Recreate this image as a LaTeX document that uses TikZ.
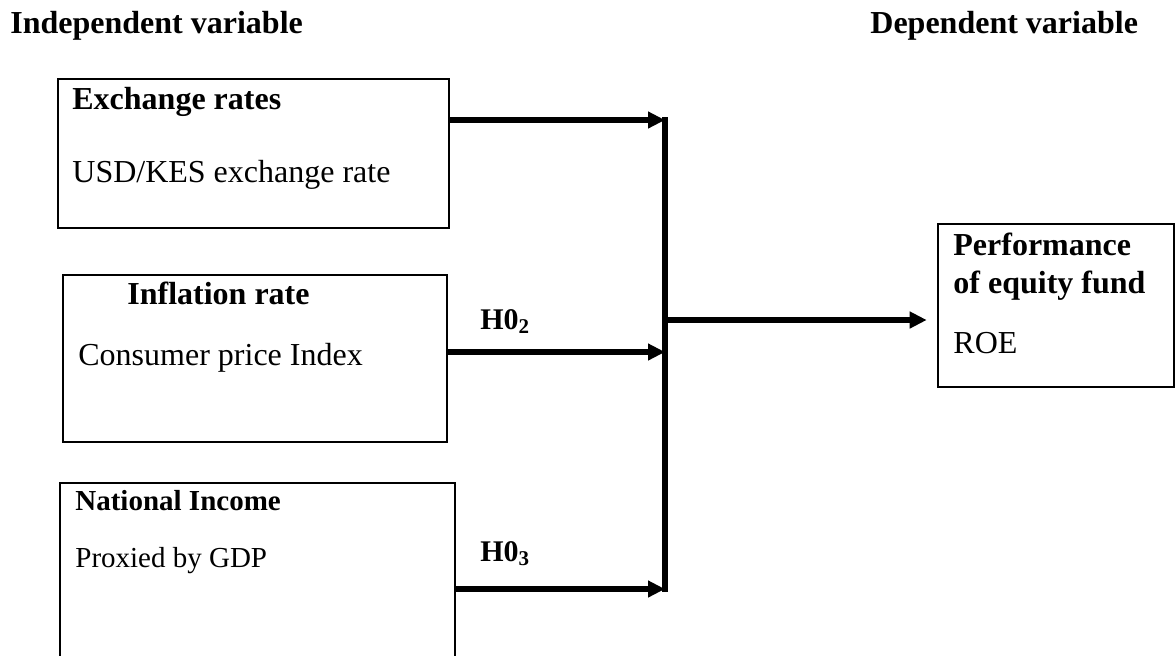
\documentclass[tikz,border=0pt]{standalone}
\usepackage{fontspec}
\setmainfont{Liberation Serif}
\usetikzlibrary{fit}
\usetikzlibrary{positioning}
\usetikzlibrary{arrows.meta}
\colorlet{frame}{black}
\tikzset{
  varbox/.style={draw=frame, line width=1.3pt, inner sep=0pt},
  boxhead/.style={anchor=base west, inner sep=0pt, font=\fontsize{16pt}{19pt}\selectfont\bfseries},
  boxtext/.style={anchor=base west, inner sep=0pt, font=\fontsize{16pt}{19pt}\selectfont},
  link/.style={draw=frame, line width=3pt, -{Triangle[length=8.5pt,width=8pt]}},
}
\newcommand{\tikzvarbox}[5]{%
\node[varbox, fit={(#2,#3) (#4,#5)}] (#1) {};
}

\begin{document}
\begin{tikzpicture}[x=0.5pt, y=-0.5pt]
\clip (0,0) rectangle (1176,655);
% headings
\node[boxhead] (indep) at (10,33) {Independent variable};
\node[boxhead] (dep) at (870,33) {Dependent variable};
% independent variables
\tikzvarbox{exch}{58}{79}{449}{228}
\node[boxhead] (exch-title) at (72,109) {Exchange rates};
\node[boxtext] (exch-text) at (72,182) {USD/KES exchange rate};
\tikzvarbox{infl}{63}{275}{447}{442}
\node[boxhead] (infl-title) at (127,304) {Inflation rate};
\node[boxtext] (infl-text) at (78,365) {Consumer price Index};
\tikzvarbox{income}{60}{483}{455}{700}
\node[boxhead, font=\fontsize{14.5pt}{17pt}\selectfont\bfseries] (income-title) at (75,510) {National Income};
\node[boxtext, font=\fontsize{14.5pt}{17pt}\selectfont] (income-text) at (75,567) {Proxied by GDP};
% dependent variable
\tikzvarbox{perf}{938}{224}{1174}{387}
\node[boxhead] (perf-title) at (953,255) {Performance};
\node[boxhead] (perf-title2) at (953,293) {of equity fund};
\node[boxtext] (perf-text) at (953,353) {ROE};
% collector line
\coordinate (j1) at (665,120);
\coordinate (j2) at (665,352);
\coordinate (j3) at (665,589);
\coordinate (j4) at (665,320);
\draw[draw=frame, line width=3pt, line cap=rect] (j1) -- (j3);
\draw[link] (exch.east |- j1) -- (j1);
\draw[link] (infl.east |- j2) -- (j2);
\draw[link] (income.east |- j3) -- (j3);
\draw[link, shorten >=5pt] (j4) -- (perf.west |- j4);
% hypotheses
\node[boxhead, font=\fontsize{15pt}{18pt}\selectfont\bfseries] (h2) at (480,329) {H0\textsubscript{2}};
\node[boxhead, font=\fontsize{15pt}{18pt}\selectfont\bfseries] (h3) at (480,561) {H0\textsubscript{3}};
\end{tikzpicture}
\end{document}
